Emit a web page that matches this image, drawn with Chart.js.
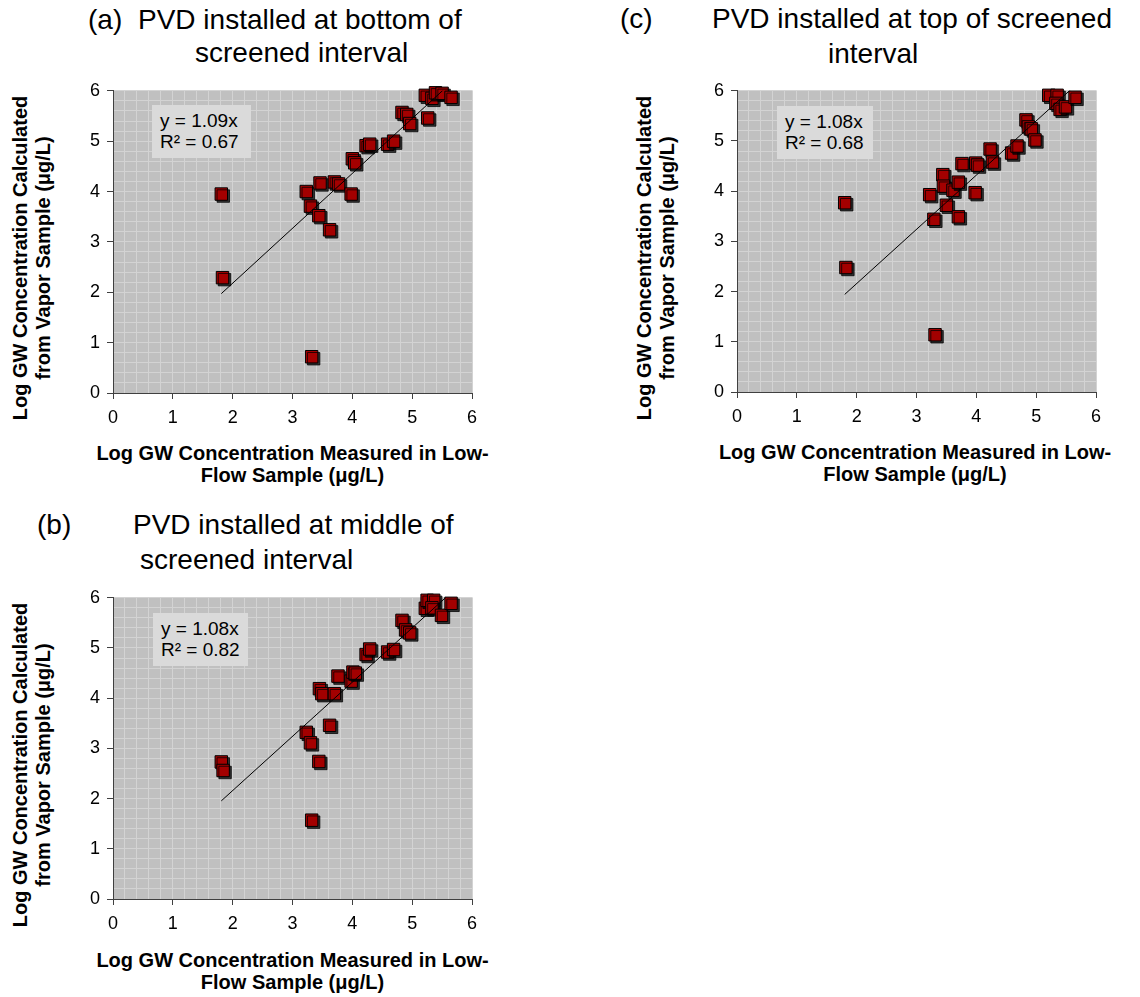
<!DOCTYPE html>
<html>
<head>
<meta charset="utf-8">
<script src="https://cdn.jsdelivr.net/npm/chart.js@4.4.1/dist/chart.umd.min.js"></script>
<style>
  body { margin: 0; background: #fff; width: 1140px; height: 997px; position: relative; overflow: hidden;
         font-family: "Liberation Sans", Arial, sans-serif; color: #000; }
  canvas { position: absolute; }
  .t  { position: absolute; font-size: 28px; line-height: 28px; white-space: pre; }
  .xt { position: absolute; font-size: 20px; font-weight: bold; line-height: 22px; text-align: center; width: 440px; }
  .yt { position: absolute; font-size: 20px; font-weight: bold; line-height: 23px; text-align: center;
        width: 420px; height: 46px; transform: rotate(-90deg); }
  .eq { position: absolute; background: #dadada; font-size: 19px; line-height: 21px; padding: 5px 0 0 8px;
        box-sizing: border-box; white-space: pre; }
</style>
</head>
<body>

<!-- panel titles -->
<div class="t" style="left:88px;top:6px">(a)</div>
<div class="t" style="left:138px;top:6px">PVD installed at bottom of</div>
<div class="t" style="left:195px;top:39px">screened interval</div>

<div class="t" style="left:620px;top:5px">(c)</div>
<div class="t" style="left:712px;top:5px">PVD installed at top of screened</div>
<div class="t" style="left:828px;top:40px">interval</div>

<div class="t" style="left:37px;top:511px">(b)</div>
<div class="t" style="left:133px;top:511px">PVD installed at middle of</div>
<div class="t" style="left:140px;top:546px">screened interval</div>

<!-- axis titles -->
<div class="yt" style="left:-178.5px;top:235px">Log GW Concentration Calculated<br>from Vapor Sample (μg/L)</div>
<div class="xt" style="left:72.5px;top:442px">Log GW Concentration Measured in Low-<br>Flow Sample (μg/L)</div>

<div class="yt" style="left:445.5px;top:234.5px">Log GW Concentration Calculated<br>from Vapor Sample (μg/L)</div>
<div class="xt" style="left:695px;top:441px">Log GW Concentration Measured in Low-<br>Flow Sample (μg/L)</div>

<div class="yt" style="left:-178.5px;top:741.5px">Log GW Concentration Calculated<br>from Vapor Sample (μg/L)</div>
<div class="xt" style="left:72.5px;top:949px">Log GW Concentration Measured in Low-<br>Flow Sample (μg/L)</div>

<canvas id="chartBottom" width="440" height="357" style="left:60px;top:73px"></canvas>
<canvas id="chartTop"    width="440" height="356" style="left:684px;top:73px"></canvas>
<canvas id="chartMiddle" width="440" height="356" style="left:60px;top:580px"></canvas>

<div class="eq" id="eqBottom" style="left:152px;top:105px;width:99px;height:53px"></div>
<div class="eq" id="eqTop"    style="left:777px;top:106px;width:96px;height:53px"></div>
<div class="eq" id="eqMiddle" style="left:153px;top:613px;width:95px;height:53px"></div>

<script>
// (a) PVD at bottom of screened interval
const xBottom = [1.81, 1.83, 3.32, 3.23, 3.30, 3.44, 3.46, 3.62, 3.70, 3.77, 3.98, 4.00, 4.04,
                 4.23, 4.29, 4.59, 4.69, 4.83, 4.91, 4.96, 5.26, 5.22, 5.33, 5.39, 5.50, 5.65];
const yBottom = [3.95, 2.29, 0.72, 4.00, 3.71, 3.52, 4.17, 3.24, 4.19, 4.15, 3.95, 4.65, 4.57,
                 4.91, 4.94, 4.94, 5.00, 5.57, 5.53, 5.35, 5.46, 5.91, 5.85, 5.96, 5.95, 5.87];

// (b) PVD at middle of screened interval
const xMiddle = [1.81, 1.84, 3.32, 3.23, 3.30, 3.44, 3.45, 3.49, 3.62, 3.70, 3.76, 3.98, 4.01, 4.05,
                 4.23, 4.29, 4.59, 4.69, 4.83, 4.89, 4.96, 5.22, 5.25, 5.36, 5.33, 5.49, 5.65];
const yMiddle = [2.73, 2.56, 1.57, 3.32, 3.11, 2.74, 4.19, 4.09, 3.46, 4.09, 4.44, 4.34, 4.52, 4.50,
                 4.87, 4.98, 4.92, 4.97, 5.55, 5.36, 5.30, 5.79, 5.95, 5.95, 5.80, 5.65, 5.89];

// (c) PVD at top of screened interval
const xTop = [1.80, 1.82, 3.31, 3.22, 3.29, 3.44, 3.45, 3.50, 3.61, 3.70, 3.70, 3.76, 3.98, 3.99, 4.02,
              4.23, 4.27, 4.59, 4.68, 4.83, 4.87, 4.92, 4.98, 5.21, 5.35, 5.33, 5.40, 5.49, 5.65];
const yTop = [3.77, 2.48, 1.14, 3.93, 3.44, 4.33, 4.10, 3.72, 4.02, 4.18, 3.49, 4.55, 3.97, 4.56, 4.52,
              4.84, 4.58, 4.76, 4.90, 5.42, 5.28, 5.24, 5.02, 5.91, 5.91, 5.75, 5.63, 5.68, 5.87];

// trend lines through the origin
const slopes   = { bottom: 1.09, middle: 1.08, top: 1.08 };
const rSquared = { bottom: 0.67, middle: 0.82, top: 0.68 };

// axis ticks
const axisMin = 0, axisMax = 6, majorStep = 1, minorStep = 0.2;

const FONT = '"Liberation Sans", Arial, sans-serif';

const plotBackground = {
  id: 'plotBackground',
  beforeDraw(chart) {
    const { ctx, chartArea: a } = chart;
    ctx.save();
    ctx.fillStyle = '#c0c0c0';
    ctx.fillRect(a.left, a.top, a.right - a.left, a.bottom - a.top);
    ctx.restore();
  }
};

const markerShadow = {
  id: 'markerShadow',
  beforeDatasetDraw(chart, args) {
    if (!chart.data.datasets[args.index].shadow) return;
    const c = chart.ctx;
    c.save();
    c.shadowColor = 'rgba(0,0,0,0.75)';
    c.shadowOffsetX = 2;
    c.shadowOffsetY = 2;
    c.shadowBlur = 0;
  },
  afterDatasetDraw(chart, args) {
    if (chart.data.datasets[args.index].shadow) chart.ctx.restore();
  }
};

function minorAxis(position) {
  return {
    type: 'linear', position, min: axisMin, max: axisMax, z: -1,
    ticks: { display: false, stepSize: minorStep },
    grid: { color: '#d3d3d3', lineWidth: 1, drawTicks: false },
    border: { display: false },
    afterFit: s => { if (position === 'bottom') s.height = 0; else s.width = 0; }
  };
}

function scatterPanel(id, xs, ys, slope) {
  const pts = xs.map((x, i) => ({ x, y: ys[i] }));
  const x0 = Math.min(...xs), x1 = Math.max(...xs);
  return new Chart(document.getElementById(id), {
    type: 'scatter',
    data: {
      datasets: [
        { type: 'line', data: [{ x: x0, y: slope * x0 }, { x: x1, y: slope * x1 }],
          borderColor: '#000', borderWidth: 1, pointRadius: 0, showLine: true, order: 0 },
        { data: pts, pointStyle: 'rect', pointRadius: 8.8, backgroundColor: '#a30000',
          borderColor: '#000', borderWidth: 1, clip: false, order: 1, shadow: true }
      ]
    },
    options: {
      responsive: false, animation: false, events: [],
      layout: { padding: { top: 0, right: 28, left: 0, bottom: 0 } },
      plugins: { legend: { display: false }, tooltip: { enabled: false } },
      scales: {
        x: {
          type: 'linear', position: 'bottom', min: axisMin, max: axisMax,
          ticks: { stepSize: majorStep, color: '#000', padding: 8, font: { family: FONT, size: 18 } },
          grid: { color: '#8a8a8a', lineWidth: 1, tickColor: '#404040', tickLength: 6 },
          border: { color: '#404040', width: 1 },
          afterFit: s => { s.height = 37; }
        },
        y: {
          type: 'linear', position: 'left', min: axisMin, max: axisMax,
          ticks: { stepSize: majorStep, color: '#000', padding: 7, font: { family: FONT, size: 18 } },
          grid: { color: '#3a3a3a', lineWidth: 1, tickColor: '#404040', tickLength: 6 },
          border: { color: '#404040', width: 1, dash: [9, 3] },
          afterFit: s => { s.width = 53; }
        },
        xMinor: minorAxis('bottom'),
        yMinor: minorAxis('left')
      }
    },
    plugins: [plotBackground, markerShadow]
  });
}

function equationLabel(id, slope, r2) {
  document.getElementById(id).textContent = 'y = ' + slope.toFixed(2) + 'x\nR² = ' + r2.toFixed(2);
}

scatterPanel('chartBottom', xBottom, yBottom, slopes.bottom);
scatterPanel('chartTop', xTop, yTop, slopes.top);
scatterPanel('chartMiddle', xMiddle, yMiddle, slopes.middle);

equationLabel('eqBottom', slopes.bottom, rSquared.bottom);
equationLabel('eqTop', slopes.top, rSquared.top);
equationLabel('eqMiddle', slopes.middle, rSquared.middle);
</script>
</body>
</html>
